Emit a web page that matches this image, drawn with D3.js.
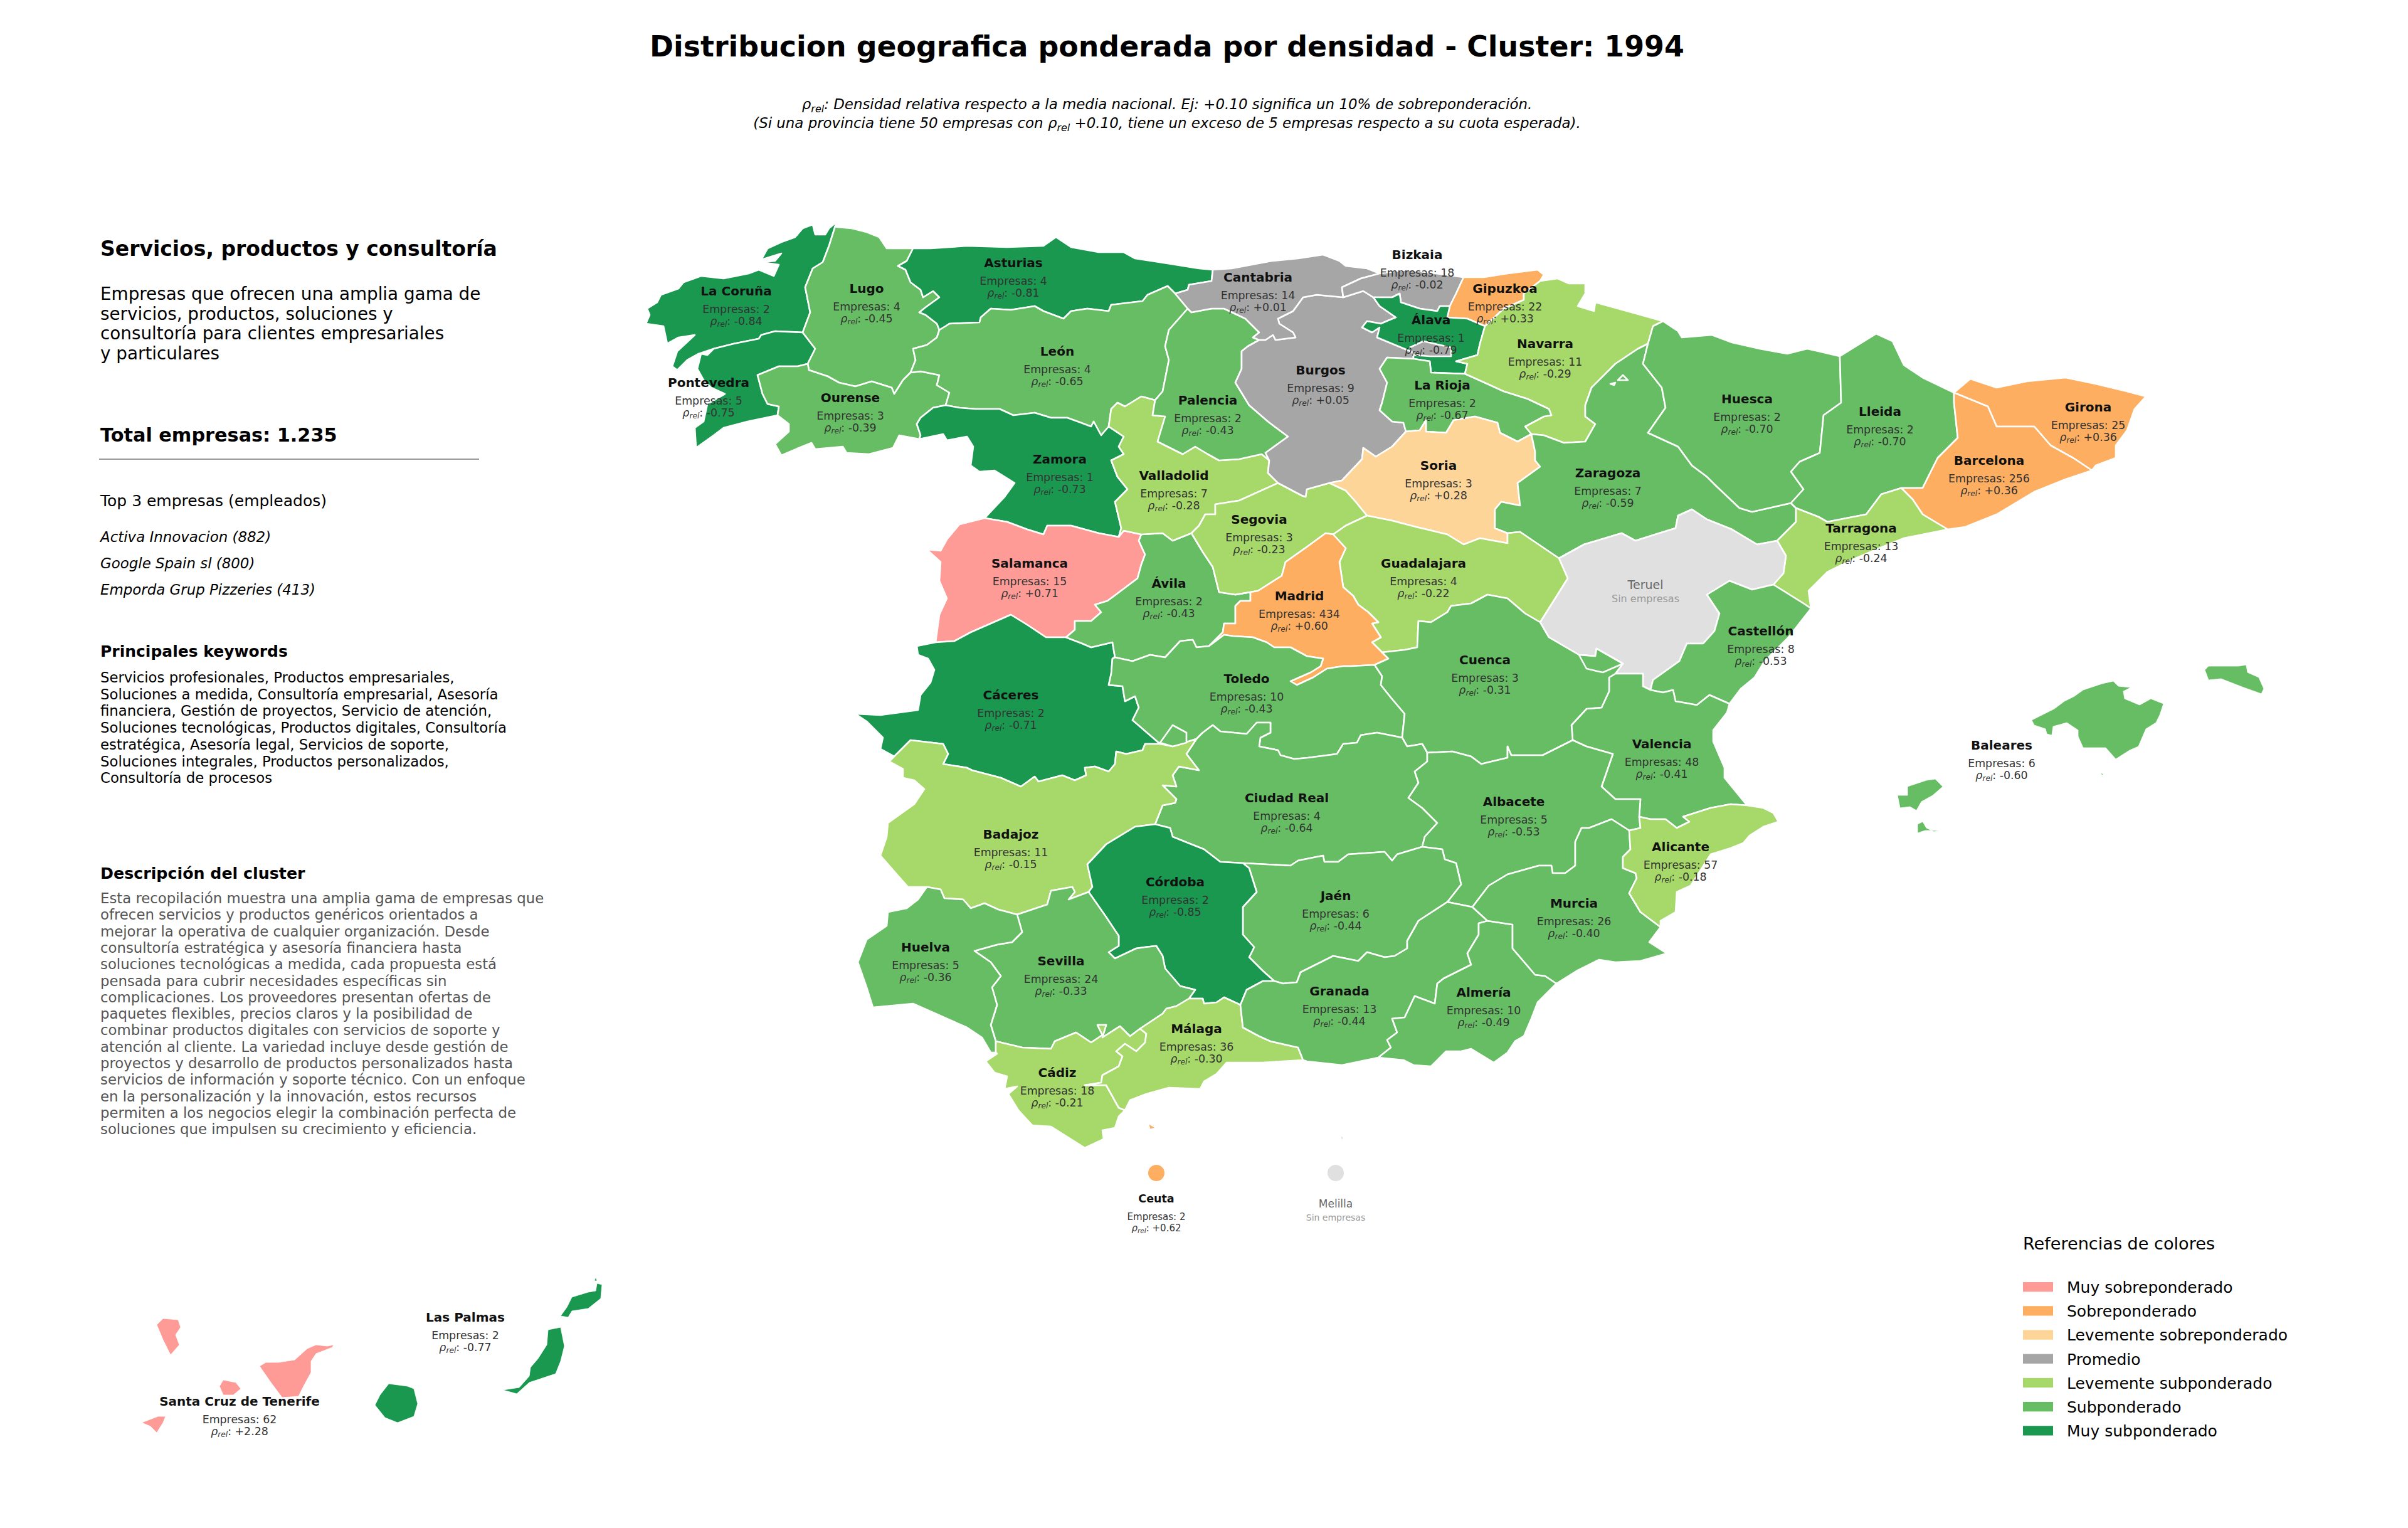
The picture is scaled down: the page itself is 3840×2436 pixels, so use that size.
<!DOCTYPE html>
<html>
<head>
<meta charset="utf-8">
<script src="https://d3js.org/d3.v7.min.js"></script>
<style>
  html, body { margin: 0; padding: 0; background: #fff; }
  svg { display: block; }
  text { font-family: "DejaVu Sans", sans-serif; }
</style>
</head>
<body>
<div id="chart"></div>
<script>
// ---- values ----
const provinceNames = ["La Coruña","Lugo","Asturias","Pontevedra","Ourense","León","Zamora","Palencia","Valladolid","Salamanca","Ávila","Cantabria","Bizkaia","Gipuzkoa","Álava","Navarra","Burgos","La Rioja","Huesca","Soria","Zaragoza","Segovia","Guadalajara","Madrid","Teruel","Castellón","Cuenca","Valencia","Albacete","Alicante","Murcia","Almería","Baleares","Toledo","Cáceres","Badajoz","Ciudad Real","Córdoba","Jaén","Huelva","Sevilla","Granada","Málaga","Cádiz","Ceuta","Melilla","Lleida","Tarragona","Girona","Barcelona","Las Palmas","Santa Cruz de Tenerife"];
const provinceCounts = [2,4,4,5,3,4,1,2,7,15,2,14,18,22,1,11,9,2,2,3,7,3,4,434,0,8,3,48,5,57,26,10,6,10,2,11,4,2,6,5,24,13,36,18,2,0,2,13,25,256,2,62];
const provinceRho = [-0.84,-0.45,-0.81,-0.75,-0.39,-0.65,-0.73,-0.43,-0.28,0.71,-0.43,0.01,-0.02,0.33,-0.79,-0.29,0.05,-0.67,-0.70,0.28,-0.59,-0.23,-0.22,0.60,null,-0.53,-0.31,-0.41,-0.53,-0.18,-0.40,-0.49,-0.60,-0.43,-0.71,-0.15,-0.64,-0.85,-0.44,-0.36,-0.33,-0.44,-0.30,-0.21,0.62,null,-0.70,-0.24,0.36,0.36,-0.77,2.28];

const categoryLabels = ["Muy sobreponderado","Sobreponderado","Levemente sobreponderado","Promedio","Levemente subponderado","Subponderado","Muy subponderado"];
const categoryColors = ["#fe9b96","#fdae61","#fed598","#a6a6a6","#a6d96a","#66bd63","#1a9850"];
const categoryThresholds = [-0.705,-0.305,-0.1,0.1,0.3,0.7];
const noDataColor = "#e0e0e0";

const chartTitle = "Distribucion geografica ponderada por densidad - Cluster: 1994";
const clusterName = "Servicios, productos y consultoría";
const clusterSummary = ["Empresas que ofrecen una amplia gama de","servicios, productos, soluciones y","consultoría para clientes empresariales","y particulares"];
const totalLabel = "Total empresas: 1.235";
const topHeading = "Top 3 empresas (empleados)";
const topCompanies = ["Activa Innovacion (882)","Google Spain sl (800)","Emporda Grup Pizzeries (413)"];
const keywordsHeading = "Principales keywords";
const keywordLines = ["Servicios profesionales, Productos empresariales,","Soluciones a medida, Consultoría empresarial, Asesoría","financiera, Gestión de proyectos, Servicio de atención,","Soluciones tecnológicas, Productos digitales, Consultoría","estratégica, Asesoría legal, Servicios de soporte,","Soluciones integrales, Productos personalizados,","Consultoría de procesos"];
const descriptionHeading = "Descripción del cluster";
const descriptionLines = ["Esta recopilación muestra una amplia gama de empresas que","ofrecen servicios y productos genéricos orientados a","mejorar la operativa de cualquier organización. Desde","consultoría estratégica y asesoría financiera hasta","soluciones tecnológicas a medida, cada propuesta está","pensada para cubrir necesidades específicas sin","complicaciones. Los proveedores presentan ofertas de","paquetes flexibles, precios claros y la posibilidad de","combinar productos digitales con servicios de soporte y","atención al cliente. La variedad incluye desde gestión de","proyectos y desarrollo de productos personalizados hasta","servicios de información y soporte técnico. Con un enfoque","en la personalización y la innovación, estos recursos","permiten a los negocios elegir la combinación perfecta de","soluciones que impulsen su crecimiento y eficiencia."];

// ---- map geometry, shared borders in planar map units ----
const mapArcs = {
  coastCor:[[667,177],[661,182],[658,187],[650,187],[648,179],[640,182],[634,189],[623,193],[612,198],[607,207],[623,202],[618,208],[607,209],[621,211],[617,220],[605,215],[597,218],[577,222],[559,220],[545,225],[541,230],[527,235],[524,241],[516,246],[518,251],[515,258],[529,260],[532,274],[541,269],[554,267],[540,280],[536,292],[540,295],[548,287],[557,282],[569,278]],
  corLug:[[667,177],[661,196],[656,209],[648,214],[642,229],[646,249],[640,265]],
  corPon:[[640,265],[618,264],[607,267],[605,270],[585,274],[569,278]],
  lugPon:[[640,265],[650,278],[644,290]],
  ponOur:[[644,290],[636,292],[621,292],[604,299],[608,314],[612,322],[621,324],[620,331]],
  ponCoast:[[569,278],[564,283],[559,282],[556,294],[561,303],[567,309],[578,314],[564,322],[561,336],[554,341],[555,357],[569,347],[577,341],[596,336],[620,331]],
  ourCoast:[[620,331],[629,338],[629,344],[618,354],[623,363],[637,357],[647,353],[650,358],[672,356],[675,361],[693,362],[712,357],[717,347],[733,350]],
  lugOur:[[644,290],[645,295],[660,300],[669,305],[682,308],[695,304],[711,309],[713,314],[720,303],[726,297]],
  lugLeo:[[726,297],[730,287],[728,278],[739,275],[747,269],[749,263]],
  lugCoast:[[667,177],[667,181],[679,182],[691,185],[701,189],[707,198],[728,198]],
  astLug:[[728,198],[723,208],[716,212],[722,215],[726,225],[734,231],[736,237],[744,232],[749,237],[738,245],[733,249],[738,251],[747,258],[749,263]],
  ourLeo:[[726,297],[734,296],[749,299],[747,307],[757,313],[754,323]],
  ourZam:[[754,323],[744,325],[734,333],[731,338],[734,347],[733,350]],
  zamWest:[[733,350],[752,346],[755,351],[771,348],[776,356],[774,371],[781,376],[793,375],[809,385],[801,396],[785,413]],
  astCoast:[[728,198],[742,198],[771,196],[803,197],[832,196],[842,189],[854,197],[876,201],[896,201],[905,206],[931,210],[956,214],[967,215]],
  astLeo:[[749,263],[754,260],[757,258],[781,257],[782,253],[790,246],[806,247],[825,244],[832,248],[848,254],[854,248],[867,246],[884,248],[886,243],[911,240],[915,235],[931,228],[937,234]],
  astCan:[[967,215],[966,224],[948,227],[947,231],[937,234]],
  leoCan:[[937,234],[947,246]],
  leoPal:[[947,246],[940,254],[932,263],[929,276],[932,287],[927,312],[921,319]],
  leoVal:[[921,319],[910,316],[897,324],[891,321],[886,326],[884,340]],
  leoZam:[[754,323],[765,325],[778,326],[797,326],[808,331],[825,329],[838,333],[851,333],[862,337],[870,340],[872,336],[878,347],[884,340]],
  zamVal:[[884,340],[896,348],[892,356],[896,362],[886,367],[891,380],[899,390],[889,400],[894,421],[892,428]],
  zamSal:[[785,413],[803,416],[819,422],[832,426],[835,419],[854,419],[876,425],[892,428]],
  salWest:[[785,413],[765,418],[755,430],[750,439],[739,438],[750,448],[749,463],[755,477],[749,490],[746,512]],
  salVal:[[892,428],[896,423],[910,426]],
  salAvi:[[910,426],[908,431],[913,442],[910,450],[907,461],[883,479],[873,482],[878,488],[870,495],[857,495],[857,502],[850,508]],
  salCac:[[746,512],[761,511],[774,504],[790,497],[806,490],[819,498],[834,508],[850,508]],
  cacAvi:[[850,508],[863,513],[870,516],[887,512],[889,524]],
  aviTol:[[889,524],[903,527],[917,522],[929,524],[941,511],[951,510],[954,516],[964,515]],
  cacTol:[[889,524],[887,525],[886,537],[884,546],[895,547],[897,559],[905,555],[908,564],[903,574],[925,593]],
  cacBad:[[713,603],[726,590],[752,593],[756,601],[752,609],[771,612],[775,614],[798,620],[814,627],[825,619],[828,623],[847,618],[857,622],[866,618],[865,612],[873,611],[884,615],[889,609],[890,599],[898,601],[911,598],[913,593],[925,593]],
  cacWest:[[746,512],[731,515],[732,522],[740,525],[745,534],[742,544],[734,554],[732,566],[702,570],[682,569],[691,575],[704,588],[702,597],[713,603]],
  badWest:[[713,603],[709,607],[720,613],[720,620],[729,622],[737,629],[729,641],[708,656],[707,667],[702,682],[716,698],[724,707],[739,707]],
  badHue:[[739,707],[750,709],[753,716],[768,717],[774,724],[785,720],[796,725],[811,729]],
  badSev:[[811,729],[835,721],[838,710],[855,707],[857,711],[852,717],[868,711]],
  badCor:[[868,711],[871,707],[867,689],[882,673],[905,659],[921,657]],
  badCR:[[921,657],[927,642],[937,640],[938,637],[927,626],[938,627],[935,618],[940,611],[956,614],[946,601],[954,589]],
  badTol:[[925,593],[935,595],[954,589]],
  tolCR:[[954,589],[959,584],[967,578],[973,583],[994,585],[1002,576],[1013,576],[1013,584],[1005,588],[1004,595],[1019,598],[1021,602],[1032,605],[1043,604],[1066,601],[1071,593],[1082,592],[1085,586],[1098,584],[1118,588]],
  tolCue:[[1118,588],[1120,569],[1109,556],[1101,546],[1102,539],[1096,530]],
  madTol:[[964,515],[976,506],[983,507],[999,508],[1010,512],[1016,516],[1029,516],[1042,523],[1055,525],[1053,531],[1045,536],[1029,543],[1034,546],[1047,540],[1058,533],[1071,531],[1077,531],[1096,530]],
  madCue:[[1096,530],[1107,525],[1102,520]],
  madGua:[[1102,520],[1094,512],[1101,508],[1094,497],[1099,496],[1091,488],[1083,482],[1079,475],[1071,468],[1068,448],[1073,437],[1063,426]],
  madSeg:[[1063,426],[1057,425],[1042,436],[1025,448],[1022,459],[1003,471],[985,474]],
  madAvi:[[985,474],[997,472],[997,479],[989,479],[985,483],[985,497],[976,497],[975,504],[964,515]],
  segAvi:[[950,425],[959,440],[967,452],[972,472],[985,474]],
  valAvi:[[910,426],[927,425],[935,431],[950,425]],
  valSeg:[[950,425],[956,419],[961,410],[969,410],[969,402],[988,399],[1019,385]],
  palVal:[[921,319],[919,331],[929,332],[923,352],[943,362],[953,356],[963,362],[972,367],[988,366],[1006,362],[1012,367]],
  burVal:[[1012,367],[1011,377],[1019,385]],
  burSeg:[[1019,385],[1038,395],[1041,396],[1042,390],[1060,385]],
  sorSeg:[[1060,385],[1073,391],[1081,400],[1090,411]],
  segGua:[[1090,411],[1073,419],[1063,426]],
  canCoast:[[967,215],[982,214],[1014,208],[1035,206],[1055,203],[1068,208],[1073,212],[1090,214],[1100,218]],
  bizCan:[[1100,218],[1085,222],[1070,229],[1071,237]],
  burBiz:[[1071,237],[1087,232],[1095,237]],
  canPal:[[947,246],[950,249],[966,246],[976,246],[993,254],[1004,265],[999,269],[1004,271]],
  canBur:[[1004,271],[1009,271],[1015,267],[1017,271],[1033,269],[1031,265],[1020,258],[1019,254],[1031,248],[1039,237],[1050,235],[1071,237]],
  palBur:[[1004,271],[995,276],[990,280],[990,294],[985,305],[996,323],[1011,336],[1027,348],[1020,353],[1009,361],[1012,367]],
  burAla:[[1095,237],[1100,244],[1113,253],[1108,255],[1101,258],[1090,256],[1086,261],[1094,265],[1100,261],[1098,269],[1127,281],[1127,286]],
  burRio:[[1127,286],[1106,285],[1100,294],[1106,305],[1102,321],[1100,327],[1110,336],[1119,337],[1121,344]],
  alaRio:[[1127,286],[1140,288],[1141,297],[1168,298]],
  alaNav:[[1168,298],[1170,290],[1161,288],[1178,283],[1180,274],[1184,260]],
  alaGip:[[1184,260],[1170,254],[1154,253],[1156,244]],
  alaBiz:[[1156,244],[1148,244],[1146,248],[1132,246],[1117,241],[1116,234],[1110,237],[1095,237]],
  bizCoast:[[1100,218],[1122,215],[1145,218],[1167,221]],
  bizGip:[[1167,221],[1161,234],[1156,244]],
  gipCoast:[[1167,221],[1183,221],[1202,218],[1226,215],[1231,219],[1228,224]],
  gipNav:[[1228,224],[1215,234],[1215,239],[1199,246],[1184,260]],
  navCoast:[[1228,224],[1242,222],[1251,226],[1264,226],[1264,234],[1258,244],[1271,248],[1272,241],[1301,249],[1326,256]],
  navHue:[[1326,256],[1318,260],[1314,274]],
  navZar:[[1314,274],[1306,278],[1288,290],[1269,309],[1264,323],[1264,332],[1272,338],[1264,352],[1247,353],[1231,347],[1221,346]],
  navRio:[[1168,298],[1188,307],[1199,312],[1218,318],[1235,326],[1237,331],[1231,332],[1216,340],[1221,346]],
  rioSor:[[1121,344],[1132,343],[1137,335],[1137,344],[1153,345],[1159,335],[1176,332],[1194,337],[1196,345],[1210,352],[1221,346]],
  burSor:[[1121,344],[1110,356],[1097,364],[1087,357],[1086,366],[1070,383],[1060,385]],
  sorZar:[[1221,346],[1224,360],[1224,367],[1228,372],[1210,385],[1212,403],[1197,400],[1192,406],[1192,421],[1202,425]],
  sorGua:[[1202,425],[1202,433],[1180,429],[1167,434],[1154,426],[1129,420],[1110,415],[1090,411]],
  guaZar:[[1202,425],[1212,424],[1243,445]],
  guaTer:[[1243,445],[1250,461],[1228,496]],
  guaCue:[[1228,496],[1216,489],[1202,477],[1186,474],[1173,481],[1157,483],[1154,488],[1141,496],[1131,495],[1130,516],[1120,518],[1102,520]],
  zarTer:[[1243,445],[1263,434],[1293,425],[1304,431],[1323,425],[1336,421],[1338,411],[1349,406],[1361,414],[1381,422],[1401,434],[1417,431]],
  zarTar:[[1417,431],[1432,416],[1432,405]],
  zarHue:[[1314,274],[1310,290],[1325,309],[1328,325],[1314,345],[1338,356],[1349,371],[1361,380],[1368,387],[1387,405],[1397,408],[1428,401]],
  zarLle:[[1428,401],[1432,405]],
  hueNorth:[[1326,256],[1338,264],[1341,269],[1365,267],[1381,273],[1403,278],[1425,282],[1441,278],[1450,280],[1467,284]],
  hueLle:[[1467,284],[1468,321],[1454,331],[1451,361],[1435,368],[1428,376],[1438,390],[1428,401]],
  lleNorth:[[1467,284],[1475,279],[1496,266],[1509,272],[1518,291],[1533,301],[1558,313]],
  lleBcn:[[1558,313],[1558,321],[1561,349],[1545,365],[1533,389],[1516,389]],
  lleTar:[[1432,405],[1450,412],[1457,416],[1488,410],[1500,394],[1516,389]],
  tarBcn:[[1516,389],[1525,398],[1533,410],[1553,422]],
  tarCoast:[[1553,422],[1518,429],[1496,438],[1475,447],[1457,456],[1442,471],[1444,485]],
  tarCas:[[1444,485],[1438,481],[1414,466]],
  terTar:[[1417,431],[1424,443],[1422,457],[1414,466]],
  gerCoast:[[1558,313],[1571,302],[1592,309],[1616,304],[1647,301],[1671,306],[1696,312],[1711,316],[1702,326],[1696,343],[1687,355],[1687,365],[1671,371],[1668,375]],
  bcnGer:[[1558,313],[1585,324],[1592,340],[1622,340],[1635,355],[1653,365],[1668,375]],
  bcnCoast:[[1668,375],[1647,382],[1622,392],[1592,410],[1567,420],[1553,422]],
  terCue:[[1228,496],[1235,508],[1259,522],[1272,523],[1273,517],[1294,529],[1288,537]],
  terVal:[[1288,537],[1310,537],[1310,547],[1316,550]],
  casTer:[[1316,550],[1318,542],[1339,527],[1345,513],[1358,513],[1367,503],[1371,489],[1361,474],[1379,463],[1397,470],[1414,466]],
  casVal:[[1316,550],[1326,552],[1334,550],[1336,559],[1342,560],[1353,562],[1363,554],[1379,561]],
  casCoast:[[1444,485],[1426,508],[1407,527],[1399,540],[1388,549],[1379,561]],
  valCoast:[[1379,561],[1377,568],[1366,582],[1366,591],[1375,612],[1375,620],[1393,642]],
  valAli:[[1393,642],[1380,641],[1364,644],[1342,651],[1347,655],[1337,660],[1328,653],[1316,653],[1307,651]],
  valAlb:[[1307,651],[1308,637],[1288,637],[1277,627],[1286,601],[1265,595],[1254,590]],
  valCue:[[1254,590],[1253,578],[1265,565],[1277,564],[1283,551],[1283,540],[1288,537]],
  albCue:[[1254,590],[1230,602],[1205,602],[1202,595],[1202,604],[1181,609],[1173,603],[1158,599],[1138,600]],
  cueCR:[[1118,588],[1122,595],[1134,593],[1138,600]],
  crAlb:[[1138,600],[1138,607],[1128,615],[1131,624],[1123,636],[1134,644],[1146,656],[1136,667],[1134,675]],
  crJae:[[1134,675],[1114,681],[1110,686],[1104,679],[1075,681],[1067,687],[1056,687],[1055,682],[1035,686],[1029,690],[991,688]],
  crCor:[[991,688],[973,687],[960,677],[935,667],[933,660],[921,657]],
  jaeCor:[[991,688],[996,692],[1002,711],[991,723],[991,745],[1000,755],[996,763],[1007,774],[1016,782]],
  corGra:[[1016,782],[1007,782],[994,789],[989,801]],
  corMal:[[989,801],[976,795],[970,799],[960,800],[959,796],[948,796]],
  corSev:[[948,796],[953,789],[941,786],[929,772],[927,762],[922,754],[913,755],[906,756],[889,764],[884,759],[892,754],[892,746],[882,731],[868,711]],
  hueWest:[[739,707],[732,717],[723,724],[708,727],[707,738],[691,749],[684,767],[691,787],[696,803],[728,800],[771,819],[783,827],[790,839],[794,839]],
  hueSev:[[811,729],[815,743],[807,751],[795,753],[777,758],[790,767],[798,778],[791,787],[795,801],[790,817],[794,830]],
  hueCad:[[794,839],[794,830]],
  sevCad:[[794,830],[815,835],[838,836],[841,830],[858,823],[870,831],[879,825],[875,817],[882,817],[879,827],[893,818],[901,826],[909,820]],
  sevMal:[[909,820],[927,808],[930,804],[938,802],[948,796]],
  cadMal:[[909,820],[914,824],[913,831],[906,838],[897,832],[890,838],[895,842],[892,850],[879,857],[878,863],[865,865],[882,865],[892,883],[897,885]],
  malCoast:[[897,885],[901,877],[914,872],[932,867],[957,868],[960,862],[970,856],[978,847],[1007,847],[1039,845]],
  malGra:[[989,801],[991,819],[1004,826],[1013,830],[1035,835],[1039,845]],
  cadCoast:[[794,839],[795,840],[786,846],[793,855],[803,858],[801,868],[811,866],[804,872],[812,885],[823,897],[838,898],[865,915],[880,908],[879,901],[889,899],[892,890],[897,885]],
  graJae:[[1016,782],[1023,784],[1034,783],[1037,775],[1063,762],[1083,766],[1090,759],[1104,763],[1112,762],[1122,756],[1122,750],[1131,734],[1154,719]],
  jaeAlb:[[1154,719],[1165,705],[1161,688],[1152,685],[1150,677],[1134,675]],
  graAlb:[[1154,719],[1174,723]],
  albMur:[[1174,723],[1187,706],[1202,697],[1227,690],[1237,690],[1238,696],[1248,696],[1256,690],[1256,671],[1261,660],[1267,660],[1285,653],[1299,662]],
  albAli:[[1299,662],[1308,660],[1307,651]],
  murAli:[[1299,662],[1300,677],[1294,683],[1294,692],[1304,696],[1305,700],[1299,712],[1308,727],[1324,739]],
  aliCoast:[[1393,642],[1406,644],[1414,648],[1418,655],[1406,659],[1395,666],[1390,672],[1380,676],[1364,681],[1348,706],[1337,711],[1336,727],[1324,734],[1324,739]],
  murCoast:[[1324,739],[1315,751],[1329,760],[1308,766],[1288,767],[1275,765],[1257,774],[1241,784]],
  murGra:[[1174,723],[1186,734]],
  murAlm:[[1186,734],[1206,737],[1206,756],[1224,777],[1232,778],[1241,784]],
  graAlm:[[1186,734],[1179,736],[1179,745],[1170,760],[1173,769],[1151,780],[1146,784],[1144,800],[1128,794],[1120,811],[1110,812],[1114,823],[1106,829],[1109,835],[1099,843]],
  almCoast:[[1241,784],[1226,799],[1221,812],[1215,826],[1208,830],[1202,839],[1191,847],[1173,836],[1165,838],[1153,838],[1141,850],[1127,849],[1119,845],[1099,843]],
  graCoast:[[1099,843],[1070,849],[1042,846],[1039,845]]
};

// rings per province: arc names, a leading minus walks the arc backwards
const provinceRings = {
  "La Coruña":"coastCor -corPon -corLug",
  "Pontevedra":"corPon ponCoast -ponOur -lugPon",
  "Lugo":"lugCoast astLug -lugLeo -lugOur -lugPon -corLug",
  "Ourense":"ponOur ourCoast -ourZam -ourLeo -lugOur",
  "Asturias":"astCoast astCan -astLeo -astLug",
  "León":"astLeo leoCan leoPal leoVal -leoZam -ourLeo lugLeo",
  "Zamora":"leoZam zamVal -zamSal -zamWest -ourZam",
  "Salamanca":"zamSal salVal salAvi -salCac -salWest",
  "Cáceres":"salCac cacAvi cacTol -cacBad -cacWest",
  "Ávila":"-salAvi valAvi segAvi madAvi -aviTol -cacAvi",
  "Valladolid":"-leoVal palVal burVal -valSeg -valAvi -salVal -zamVal",
  "Segovia":"valSeg burSeg sorSeg segGua madSeg -segAvi",
  "Palencia":"-leoPal canPal palBur -palVal",
  "Burgos":"canBur burBiz burAla burRio burSor -burSeg -burVal -palBur",
  "Cantabria":"canCoast bizCan -canBur -canPal -leoCan -astCan",
  "Bizkaia":"bizCoast bizGip alaBiz -burBiz -bizCan",
  "Gipuzkoa":"gipCoast gipNav alaGip -bizGip",
  "Álava":"-alaBiz -alaGip -alaNav -alaRio -burAla",
  "Navarra":"navCoast navHue navZar -navRio alaNav -gipNav",
  "La Rioja":"alaRio navRio -rioSor -burRio",
  "Soria":"rioSor sorZar sorGua -sorSeg -burSor",
  "Zaragoza":"navZar sorZar guaZar zarTer zarTar -zarLle -zarHue",
  "Huesca":"hueNorth hueLle -zarHue -navHue",
  "Lleida":"lleNorth lleBcn -lleTar -zarLle -hueLle",
  "Girona":"gerCoast -bcnGer",
  "Barcelona":"bcnGer bcnCoast -tarBcn -lleBcn",
  "Tarragona":"lleTar tarBcn tarCoast tarCas -terTar zarTar",
  "Teruel":"-zarTer guaTer terCue terVal casTer -terTar",
  "Castellón":"casTer -tarCas casCoast -casVal",
  "Valencia":"casVal valCoast valAli valAlb valCue terVal",
  "Guadalajara":"sorGua segGua -madGua -guaCue -guaTer -guaZar",
  "Madrid":"madTol madCue madGua madSeg madAvi",
  "Toledo":"aviTol madTol -tolCue -tolCR -badTol -cacTol",
  "Cuenca":"-guaCue terCue -valCue albCue -cueCR tolCue madCue",
  "Ciudad Real":"tolCR cueCR crAlb crJae crCor badCR",
  "Badajoz":"cacBad badTol -badCR -badCor -badSev -badHue -badWest",
  "Albacete":"-albCue -valAlb -albAli -albMur -graAlb jaeAlb -crAlb",
  "Jaén":"-crJae -jaeAlb -graJae -jaeCor",
  "Córdoba":"badCor -crCor jaeCor corGra corMal corSev",
  "Sevilla":"-corSev -sevMal -sevCad -hueSev badSev",
  "Huelva":"hueWest hueCad -hueSev -badHue",
  "Cádiz":"cadCoast -cadMal -sevCad -hueCad",
  "Málaga":"cadMal malCoast -malGra corMal -sevMal",
  "Granada":"-corGra graJae graAlb murGra graAlm graCoast -malGra",
  "Almería":"murAlm almCoast -graAlm",
  "Murcia":"albMur murAli murCoast -murAlm -murGra",
  "Alicante":"-valAli aliCoast -murAli albAli"
};

// enclaves sit on top of the mainland rings and keep the white border
const enclaveRings = [
  ["Burgos",[[1124,277],[1135,272],[1157,277],[1157,284],[1140,284],[1127,283]]],
  ["Toledo",[[925,592],[935,578],[946,584],[946,592],[935,595]]],
  ["Valencia",[[1259,522],[1265,533],[1278,536],[1294,529],[1273,517],[1272,523]]],
  ["Huesca",[[1290,303],[1294,299],[1298,303]]],
  ["Huesca",[[1284,306],[1288,305],[1287,307]]]
];
const islandRings = [
  ["Baleares",[[1620,574],[1638,565],[1646,559],[1654,555],[1661,550],[1676,545],[1685,543],[1689,547],[1699,548],[1693,551],[1694,557],[1706,562],[1715,557],[1725,561],[1722,570],[1719,576],[1711,581],[1705,595],[1698,598],[1687,605],[1679,596],[1661,596],[1657,587],[1657,582],[1648,576],[1637,579],[1636,586],[1632,585],[1631,581],[1622,578]]],
  ["Baleares",[[1758,534],[1761,531],[1785,531],[1791,530],[1792,536],[1801,540],[1805,549],[1803,553],[1789,548],[1771,541],[1761,542]]],
  ["Baleares",[[1513,634],[1521,634],[1521,627],[1536,622],[1543,621],[1549,627],[1541,634],[1532,639],[1528,646],[1523,643],[1515,644]]],
  ["Baleares",[[1529,657],[1533,655],[1536,660],[1542,663],[1546,662],[1535,662],[1529,664]]],
  ["Baleares",[[1675,616],[1677,617],[1676,618]]],
  ["Santa Cruz de Tenerife",[[125,1056],[130,1051],[142,1052],[144,1058],[140,1064],[143,1072],[136,1080],[130,1068]]],
  ["Santa Cruz de Tenerife",[[207,1089],[212,1086],[222,1086],[235,1084],[245,1075],[252,1072],[261,1073],[266,1072],[265,1074],[252,1079],[248,1085],[248,1094],[242,1105],[238,1113],[225,1114],[216,1102]]],
  ["Santa Cruz de Tenerife",[[175,1105],[178,1100],[188,1102],[192,1107],[186,1112],[178,1112]]],
  ["Santa Cruz de Tenerife",[[113,1134],[126,1129],[132,1129],[130,1134],[125,1142],[120,1137]]],
  ["Las Palmas",[[310,1103],[325,1105],[330,1107],[333,1119],[330,1129],[317,1134],[307,1130],[299,1120],[303,1112]]],
  ["Las Palmas",[[437,1060],[447,1058],[450,1073],[447,1085],[443,1095],[422,1102],[412,1111],[401,1108],[414,1106],[422,1097],[423,1090],[429,1083],[436,1072]]],
  ["Las Palmas",[[447,1049],[452,1042],[456,1034],[469,1030],[475,1029],[476,1023],[480,1024],[479,1035],[469,1043],[456,1045],[453,1050]]],
  ["Las Palmas",[[475,1018],[476,1021],[474,1021]]],
  ["Ceuta",[[916,896],[921,899],[917,900]]],
  ["Melilla",[[1069,905],[1071,907],[1070,909]]]
];

// label anchors per province, in the same map units
const labelAnchors = {
  "La Coruña":[587,232],"Lugo":[691,230],"Asturias":[808,209.5],"Pontevedra":[565,305],"Ourense":[678,317],"León":[843,280],"Zamora":[845,366],"Palencia":[963,319],"Valladolid":[936,379],"Salamanca":[821,449],"Ávila":[932,465],"Cantabria":[1003,221],"Bizkaia":[1130,203],"Gipuzkoa":[1200,230],"Álava":[1141,255],"Navarra":[1232,274],"Burgos":[1053,295],"La Rioja":[1150,307],"Huesca":[1393,318],"Soria":[1147,371],"Zaragoza":[1282,377],"Segovia":[1004,414],"Guadalajara":[1135,449],"Madrid":[1036,475],"Teruel":[1312,466],"Castellón":[1404,503],"Cuenca":[1184,526],"Valencia":[1325,593],"Albacete":[1207,639],"Alicante":[1340,675],"Murcia":[1255,720],"Almería":[1183,791],"Baleares":[1596,594],"Toledo":[994,541],"Cáceres":[806,554],"Badajoz":[806,665],"Ciudad Real":[1026,636],"Córdoba":[937,703],"Jaén":[1065,714],"Huelva":[738,755],"Sevilla":[846,766],"Granada":[1068,790],"Málaga":[954,820],"Cádiz":[843,855],"Ceuta":[922,955],"Melilla":[1065,959],"Lleida":[1499,328],"Tarragona":[1484,421],"Girona":[1665,324.5],"Barcelona":[1586,367],"Las Palmas":[371,1050],"Santa Cruz de Tenerife":[191,1117]
};
const markerAnchors = {"Ceuta":[922,935],"Melilla":[1065,935]};

// ---- setup ----
const width = 3840, height = 2436;
const svg = d3.select("#chart").append("svg")
  .attr("width", width)
  .attr("height", height)
  .attr("viewBox", [0, 0, width, height]);

const projection = d3.geoIdentity().scale(2).translate([0, 0]);
const path = d3.geoPath(projection);

const level = d3.scaleThreshold()
  .domain(categoryThresholds)
  .range(categoryColors.slice().reverse());

const provinces = provinceNames.map((name, i) => ({name: name, count: provinceCounts[i], rho: provinceRho[i]}));
const byName = new Map(provinces.map(d => [d.name, d]));
const fillOf = name => {
  const d = byName.get(name);
  return d.count === 0 ? noDataColor : level(d.rho);
};

function ringFromArcs(spec) {
  let ring = [];
  spec.split(" ").forEach(ref => {
    const back = ref[0] === "-";
    const pts = mapArcs[back ? ref.slice(1) : ref].slice();
    if (back) pts.reverse();
    ring = ring.concat(ring.length ? pts.slice(1) : pts);
  });
  return ring;
}

const shapes = Object.keys(provinceRings).map(name => ({name: name, ring: ringFromArcs(provinceRings[name]), edge: 2.6}))
  .concat(enclaveRings.map(d => ({name: d[0], ring: d[1], edge: 2.6})))
  .concat(islandRings.map(d => ({name: d[0], ring: d[1], edge: 0.8})));

// ---- map ----
svg.append("g").selectAll("path")
  .data(shapes)
  .enter()
  .append("path")
  .attr("d", d => path({type: "Polygon", coordinates: [d.ring.concat([d.ring[0]])]}))
  .attr("fill", d => fillOf(d.name))
  .attr("stroke", "#fff")
  .attr("stroke-width", d => d.edge)
  .attr("stroke-linejoin", "round");

svg.append("g").selectAll("circle")
  .data(Object.keys(markerAnchors))
  .enter()
  .append("circle")
  .attr("cx", d => projection(markerAnchors[d])[0])
  .attr("cy", d => projection(markerAnchors[d])[1])
  .attr("r", 13)
  .attr("fill", d => fillOf(d));

// ρ_rel written like the mathtext of the original, subscript in a smaller italic
function rhoParts(sel, size, tail) {
  sel.append("tspan").attr("font-style", "italic").text("ρ");
  sel.append("tspan").attr("font-style", "italic").attr("font-size", size * 0.7).attr("dy", size * 0.2).text("rel");
  sel.append("tspan").attr("dy", -size * 0.2).text(tail);
}
const fmtRho = d3.format("+.2f");

// ---- province labels ----
const labels = svg.append("g").selectAll("g")
  .data(provinces)
  .enter()
  .append("g")
  .attr("transform", d => "translate(" + projection(labelAnchors[d.name]) + ")")
  .attr("text-anchor", "middle");

labels.each(function(d) {
  const g = d3.select(this);
  const small = d.name === "Ceuta" || d.name === "Melilla";
  if (d.count === 0) {
    g.append("text").attr("y", 7).attr("font-size", small ? 17 : 19).attr("fill", "#666").text(d.name);
    g.append("text").attr("y", 28).attr("font-size", small ? 14 : 16).attr("fill", "#999").text("Sin empresas");
    return;
  }
  g.append("text").attr("y", 7).attr("font-size", small ? 17.5 : 20).attr("font-weight", "bold").attr("fill", "#111").text(d.name);
  const size = small ? 15 : 17.4;
  g.append("text").attr("y", small ? 34.5 : 35).attr("font-size", size).attr("fill", "#333").text("Empresas: " + d.count);
  g.append("text").attr("y", small ? 52.5 : 53.5).attr("font-size", size).attr("fill", "#333")
    .call(rhoParts, size, ": " + fmtRho(d.rho).replace("\u2212", "-"));
});

// ---- heading ----
const head = svg.append("g").attr("text-anchor", "middle");
head.append("text").attr("x", 1861).attr("y", 90).attr("font-size", 45.83).attr("font-weight", "bold").text(chartTitle);
const sub1 = head.append("text").attr("x", 1861).attr("y", 174).attr("font-size", 22.9).attr("font-style", "italic");
rhoParts(sub1, 22.9, ": Densidad relativa respecto a la media nacional. Ej: +0.10 significa un 10% de sobreponderación.");
const sub2 = head.append("text").attr("x", 1861).attr("y", 204).attr("font-size", 22.9).attr("font-style", "italic");
sub2.append("tspan").text("(Si una provincia tiene 50 empresas con ");
rhoParts(sub2, 22.9, " +0.10, tiene un exceso de 5 empresas respecto a su cuota esperada).");

// ---- left panel ----
const panel = svg.append("g").attr("transform", "translate(160,0)");
function block(lines, y0, step, size, attrs) {
  const sel = panel.append("g").selectAll("text").data(lines).enter().append("text")
    .attr("y", (d, i) => y0 + i * step)
    .attr("font-size", size)
    .text(d => d);
  Object.keys(attrs || {}).forEach(k => sel.attr(k, attrs[k]));
}
block([clusterName], 408, 0, 33, {"font-weight": "bold"});
block(clusterSummary, 478, 31.6, 27.8);
block([totalLabel], 704, 0, 30.3, {"font-weight": "bold"});
panel.append("line").attr("x1", -2).attr("x2", 604).attr("y1", 732).attr("y2", 732).attr("stroke", "#999").attr("stroke-width", 2);
block([topHeading], 807, 0, 25);
block(topCompanies, 864, 42, 22.9, {"font-style": "italic"});
block([keywordsHeading], 1047, 0, 25, {"font-weight": "bold"});
block(keywordLines, 1088, 26.7, 22.8);
block([descriptionHeading], 1400.6, 0, 25.3, {"font-weight": "bold"});
block(descriptionLines, 1440, 26.3, 22.8, {"fill": "#555"});

// ---- legend ----
const legend = svg.append("g").attr("transform", "translate(3226,0)");
legend.append("text").attr("y", 1992).attr("font-size", 27.1).text("Referencias de colores");
const legendRow = d3.scalePoint().domain(categoryLabels).range([2044, 2044 + 6 * 38.2]);
const rows = legend.selectAll("g.row").data(categoryLabels).enter().append("g")
  .attr("class", "row")
  .attr("transform", d => "translate(0," + legendRow(d) + ")");
rows.append("rect").attr("width", 48).attr("height", 15.3).attr("fill", (d, i) => categoryColors[i]);
rows.append("text").attr("x", 70).attr("y", 17).attr("font-size", 25).text(d => d);
</script>
</body>
</html>
